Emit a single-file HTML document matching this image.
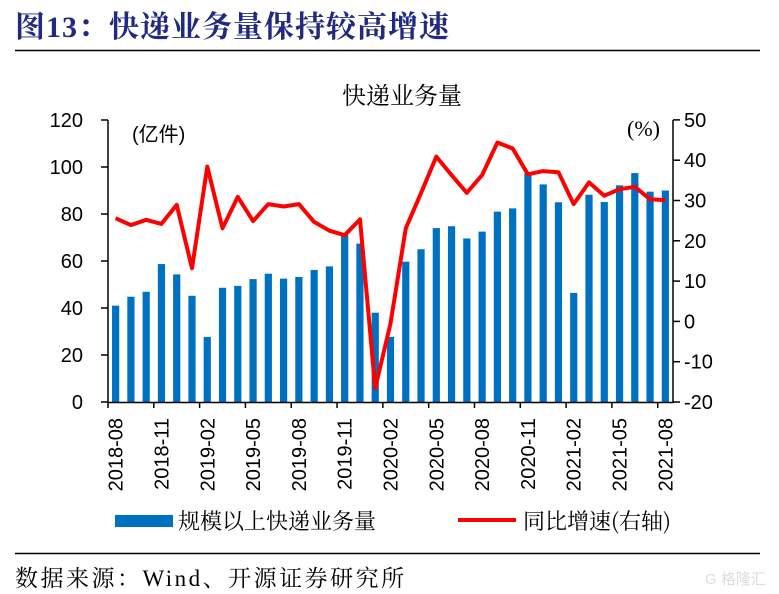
<!DOCTYPE html>
<html><head><meta charset="utf-8"><style>
body{margin:0;background:#fff;}
svg{display:block;}
</style></head><body>
<svg width="779" height="594" xmlns="http://www.w3.org/2000/svg" font-family="Liberation Sans, sans-serif">
<text x="15" y="37" font-family="Liberation Serif, Noto Serif CJK SC, serif" font-weight="bold" font-size="30" letter-spacing="1" fill="#1f2a80">图13：快递业务量保持较高增速</text>
<line x1="15" y1="50.5" x2="760" y2="50.5" stroke="#000" stroke-width="1.5"/>
<text x="402" y="104" text-anchor="middle" font-family="Noto Serif CJK SC, serif" font-size="24" fill="#000">快递业务量</text>
<text x="132" y="141" font-family="Liberation Sans, Noto Sans CJK SC, sans-serif" font-size="20">(亿件)</text>
<text x="627" y="136" font-family="Liberation Serif, serif" font-size="22">(%)</text>
<g id="bars" fill="#0070c0"></g>
<polyline id="line" fill="none" stroke="#ff0000" stroke-width="4" stroke-linejoin="round"/>
<g stroke="#000" stroke-width="1.5">
<line x1="108" y1="120" x2="108" y2="403"/>
<line x1="673" y1="120" x2="673" y2="403"/>
<line x1="108" y1="402.5" x2="673" y2="402.5"/>
</g>
<g id="ticks" stroke="#000" stroke-width="1.5"></g>
<g id="labels" font-size="20" fill="#000"></g>
<rect x="115" y="515" width="58" height="12" fill="#0070c0"/>
<text x="178" y="529" font-family="Noto Serif CJK SC, serif" font-size="22">规模以上快递业务量</text>
<line x1="458" y1="520" x2="516" y2="520" stroke="#ff0000" stroke-width="4"/>
<text x="523" y="529" font-family="Noto Serif CJK SC, serif" font-size="22">同比增速(右轴)</text>
<line x1="15" y1="553.5" x2="760" y2="553.5" stroke="#000" stroke-width="1.5"/>
<text x="15" y="586" font-family="Liberation Serif, Noto Serif CJK SC, serif" font-size="23" letter-spacing="2.5">数据来源：Wind、开源证券研究所</text>
<text x="705" y="584" font-size="15" fill="#ddd">G 格隆汇</text>
</svg>
<script>
var bars=[41,44.8,46.9,58.7,54.3,45.2,27.7,48.6,49.4,52.3,54.6,52.5,53.2,56.2,57.7,71.1,67.4,38,27.7,59.7,65,74,74.8,69.6,72.5,81,82.4,97.3,92.6,85,46.4,88.2,85.1,92.2,97.4,89.5,90];
var ln=[25.6,23.9,25.2,24.2,28.9,13.2,38.4,23.1,30.9,24.9,29.1,28.5,29.1,24.7,22.5,21.4,25.3,-16.6,-0.5,23.1,31.8,40.9,36.3,31.9,36.3,44.4,42.9,36.5,37.3,37,29.1,34.5,31.2,32.8,33.4,30.3,30.1];
var NS="http://www.w3.org/2000/svg",x0=108,w=15.27,y0=402;
function el(t,a,p){var e=document.createElementNS(NS,t);for(var k in a)e.setAttribute(k,a[k]);p.appendChild(e);return e;}
var g=document.getElementById('bars'),pts=[];
bars.forEach(function(v,i){var cx=x0+w*(i+0.5),h=v*2.35;el('rect',{x:cx-3.6,y:y0-h,width:7.2,height:h},g);
pts.push(cx.toFixed(1)+','+(y0-(ln[i]+20)*4.03).toFixed(1));});
document.getElementById('line').setAttribute('points',pts.join(' '));
var tk=document.getElementById('ticks'),lb=document.getElementById('labels');
for(var i=0;i<=6;i++){var y=y0-i*47;el('line',{x1:101,y1:y,x2:108,y2:y},tk);var t=el('text',{x:83,y:y+7,'text-anchor':'end'},lb);t.textContent=i*20;}
for(var i=0;i<=7;i++){var y=y0-i*40.3;el('line',{x1:673,y1:y,x2:680,y2:y},tk);var t=el('text',{x:684,y:y+7},lb);t.textContent=(i*10-20);}
var names=['2018-08','2018-11','2019-02','2019-05','2019-08','2019-11','2020-02','2020-05','2020-08','2020-11','2021-02','2021-05','2021-08'];
for(var j=0;j<13;j++){var xt=x0+w*3*j;el('line',{x1:xt,y1:y0,x2:xt,y2:y0+6},tk);
var cx=x0+w*(3*j+0.5)+7;var t=el('text',{x:0,y:0,'text-anchor':'end',transform:'translate('+cx+',418) rotate(-90)'},lb);t.textContent=names[j];}
</script>
</body></html>
